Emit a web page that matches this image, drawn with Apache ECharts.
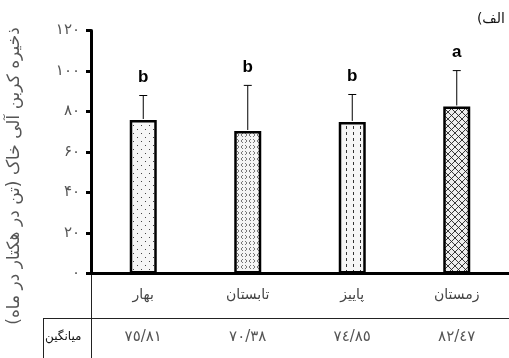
<!DOCTYPE html>
<html><head><meta charset="utf-8">
<script src="https://cdn.jsdelivr.net/npm/echarts@6/dist/echarts.min.js"></script>
<style>html,body{margin:0;padding:0;background:#fff}#c{width:509px;height:358px}</style>
</head><body><div id="c"></div>
<script>
var categories = ['بهار', 'تابستان', 'پاییز', 'زمستان'];
var meanValues = [75.81, 70.38, 74.85, 82.47];
var errorTops = [87.9, 92.9, 88.4, 100.2];
var letters = ['b', 'b', 'b', 'a'];
var meanLabels = ['٧٥/٨١', '٧٠/٣٨', '٧٤/٨٥', '٨٢/٤٧'];
var yTickLabels = ['۰', '۲۰', '۴۰', '۶۰', '۸۰', '۱۰۰', '۱۲۰'];
var yTitle = 'ذخیره کربن آلی خاک (تن در هکتار در ماه)';
var RLM = '\u200F';

function makePattern(kind) {
  var c = document.createElement('canvas');
  var ctx = c.getContext('2d');
  if (kind === 'dots') {
    c.width = 8; c.height = 8;
    ctx.fillStyle = '#f6f6f6'; ctx.fillRect(0, 0, 8, 8);
    ctx.fillStyle = '#444';
    ctx.fillRect(1, 1, 1, 1); ctx.fillRect(5, 5, 1, 1);
  } else if (kind === 'chevron') {
    c.width = 8; c.height = 6;
    ctx.fillStyle = '#f4f4f4'; ctx.fillRect(0, 0, 8, 6);
    ctx.strokeStyle = '#555'; ctx.lineWidth = 0.8;
    ctx.beginPath(); ctx.moveTo(3, 1); ctx.lineTo(1, 3); ctx.lineTo(3, 5); ctx.stroke();
    ctx.beginPath(); ctx.moveTo(5, 1); ctx.lineTo(7, 3); ctx.lineTo(5, 5); ctx.stroke();
  } else if (kind === 'dash') {
    c.width = 7; c.height = 6;
    ctx.fillStyle = '#f6f6f6'; ctx.fillRect(0, 0, 7, 6);
    ctx.fillStyle = '#333';
    ctx.fillRect(3, 0, 1, 3);
  } else {
    c.width = 7; c.height = 7;
    ctx.fillStyle = '#eeeeee'; ctx.fillRect(0, 0, 7, 7);
    ctx.strokeStyle = '#222'; ctx.lineWidth = 0.9;
    ctx.beginPath(); ctx.moveTo(0, 0); ctx.lineTo(7, 7); ctx.stroke();
    ctx.beginPath(); ctx.moveTo(7, 0); ctx.lineTo(0, 7); ctx.stroke();
  }
  return { image: c, repeat: 'repeat' };
}
var patterns = [makePattern('dots'), makePattern('chevron'), makePattern('dash'), makePattern('cross')];

var chart = echarts.init(document.getElementById('c'), null, { renderer: 'canvas' });
var persian = '"DejaVu Sans", "Noto Sans", sans-serif';
var option = {
  animation: false,
  backgroundColor: '#fff',
  grid: { left: 91, right: 0, top: 30.5, bottom: 84.5, containLabel: false },
  xAxis: [{
    type: 'category', data: categories, position: 'bottom',
    axisLine: { lineStyle: { color: '#000', width: 3 } },
    axisTick: { show: false },
    axisLabel: { margin: 15, fontFamily: persian, fontSize: 14, color: '#444' }
  }, {
    type: 'category', data: meanLabels, position: 'bottom', offset: 44.5,
    axisLine: { show: false }, axisTick: { show: false },
    axisLabel: { margin: 12, fontFamily: persian, fontSize: 15, color: '#555' }
  }],
  yAxis: {
    type: 'value', min: 0, max: 120, interval: 20,
    axisLine: { show: true, lineStyle: { color: '#000', width: 3 } },
    axisTick: { show: true, length: 5, lineStyle: { color: '#000', width: 3 } },
    splitLine: { show: false },
    axisLabel: {
      margin: 11, fontFamily: persian, fontSize: 15, color: '#555',
      formatter: function (v) { return yTickLabels[Math.round(v / 20)]; }
    }
  },
  series: [{
    type: 'bar', barWidth: 27, xAxisIndex: 0,
    data: meanValues.map(function (v, i) {
      return { value: v, itemStyle: { color: patterns[i], borderColor: '#000', borderWidth: 2.5 } };
    })
  }, {
    type: 'custom', xAxisIndex: 0,
    data: meanValues.map(function (v, i) { return [i, v, errorTops[i]]; }),
    renderItem: function (params, api) {
      var i = api.value(0);
      var base = api.coord([i, api.value(1)]);
      var top = api.coord([i, api.value(2)]);
      return {
        type: 'group',
        children: [
          { type: 'line', shape: { x1: base[0], y1: base[1] - 1, x2: top[0], y2: top[1] }, style: { stroke: '#000', lineWidth: 1 } },
          { type: 'line', shape: { x1: top[0] - 4, y1: top[1], x2: top[0] + 4, y2: top[1] }, style: { stroke: '#000', lineWidth: 1 } },
          { type: 'text', x: top[0], y: top[1] - 18, style: { text: letters[params.dataIndex], fill: '#000', font: 'bold 17px "Liberation Sans", Arial, sans-serif', align: 'center', verticalAlign: 'middle' } }
        ]
      };
    }
  }],
  graphic: [
    { type: 'text', x: 15, y: 176, rotation: Math.PI / 2, style: { text: yTitle + RLM, font: '17px "DejaVu Sans", sans-serif', fill: '#555', align: 'center', verticalAlign: 'middle' } },
    { type: 'line', shape: { x1: 91.5, y1: 274, x2: 91.5, y2: 358 }, style: { stroke: '#222', lineWidth: 1 } },
    { type: 'line', shape: { x1: 43, y1: 318.5, x2: 509, y2: 318.5 }, style: { stroke: '#222', lineWidth: 1 } },
    { type: 'line', shape: { x1: 43.5, y1: 318, x2: 43.5, y2: 358 }, style: { stroke: '#222', lineWidth: 1 } },
    { type: 'text', left: 45, top: 331, style: { text: 'میانگین', font: '12px "DejaVu Sans", sans-serif', fill: '#111' } },
    { type: 'text', right: 4, top: 12, style: { text: 'الف)' + RLM, font: '14px "DejaVu Sans", sans-serif', fill: '#111' } }
  ]
};
chart.setOption(option);
</script></body></html>
